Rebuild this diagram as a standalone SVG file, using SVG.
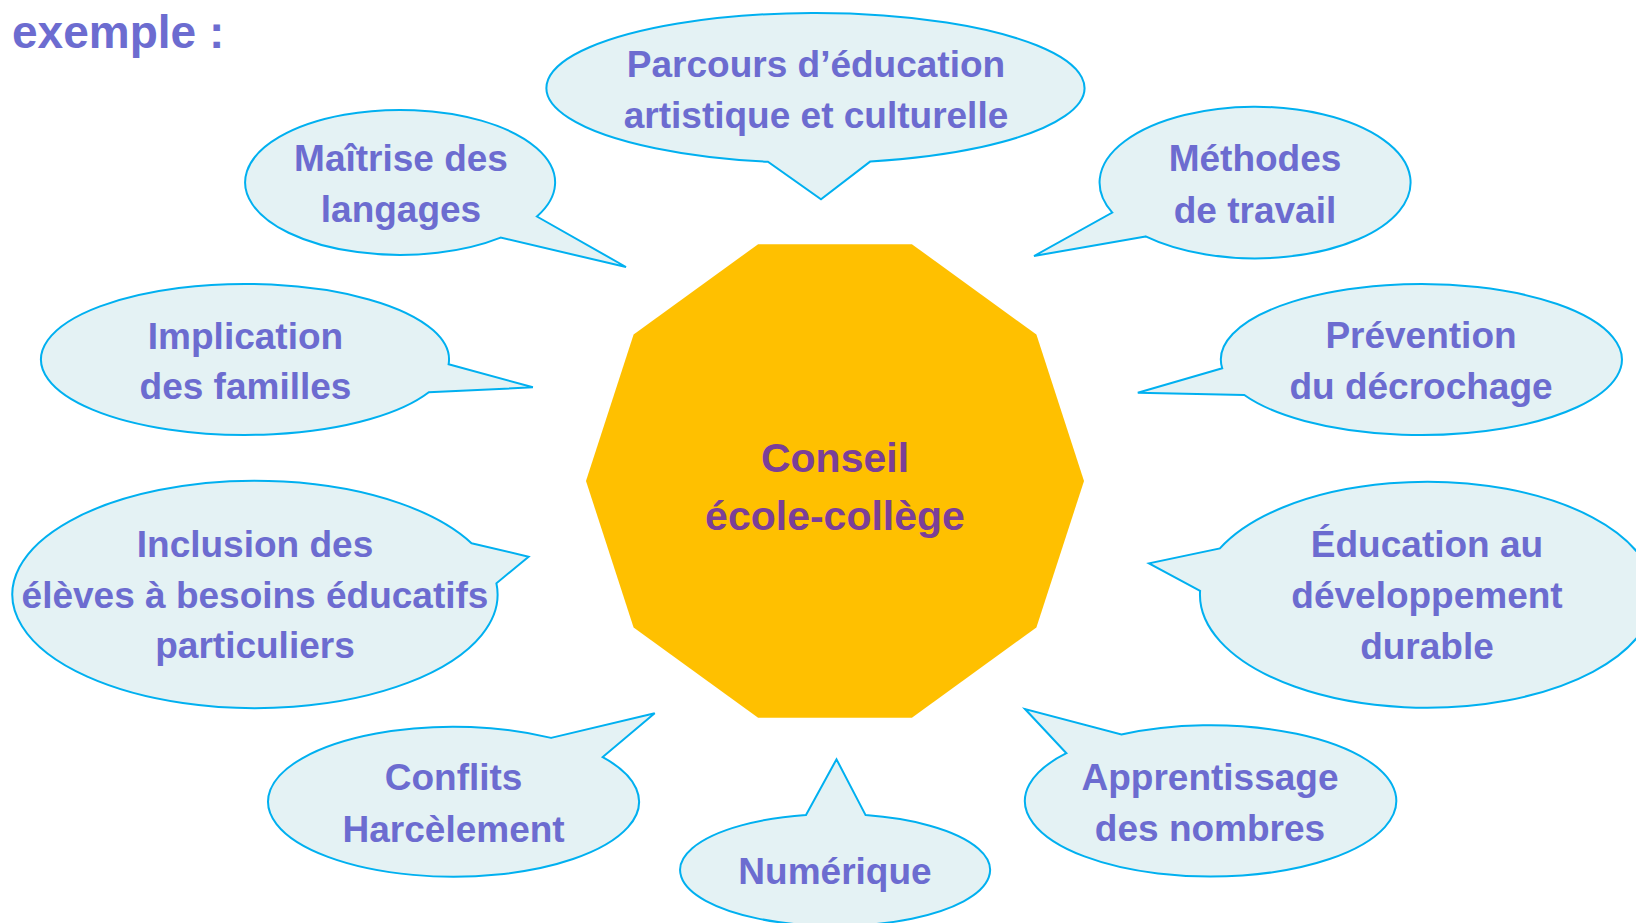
<svg xmlns="http://www.w3.org/2000/svg" width="1636" height="923" viewBox="0 0 1636 923">
<style>
.b{fill:#E4F2F4;stroke:#00B0F0;stroke-width:2;stroke-linejoin:miter}
.t{font-family:"Liberation Sans",Arial,sans-serif;font-weight:bold;font-size:37px;fill:#6C6CD0;text-anchor:middle}
.c{font-family:"Liberation Sans",Arial,sans-serif;font-weight:bold;font-size:41px;fill:#7B3F98;text-anchor:middle}
.h{font-family:"Liberation Sans",Arial,sans-serif;font-weight:bold;font-size:46px;fill:#6C6CD0}
</style>
<rect width="1636" height="923" fill="#FFFFFF"/>
<text class="h" x="12" y="48">exemple :</text>
<g id="centre">
<polygon points="1084,481 1036.4,627.4 911.9,717.8 758.1,717.8 633.6,627.4 586,481 633.6,334.6 758.1,244.2 911.9,244.2 1036.4,334.6" fill="#FFC000"/>
<text class="c" x="835" y="472">Conseil</text>
<text class="c" x="835" y="530">école-collège</text>
</g>
<g id="parcours">
<path class="b" d="M870.4,161.4 L821,199.3 L767.9,161.8 A269,75 0 1 1 870.4,161.4 Z"/>
<text class="t" x="816" y="77">Parcours d’éducation</text>
<text class="t" x="816" y="128">artistique et culturelle</text>
</g>
<g id="maitrise">
<path class="b" d="M536.9,216.5 L626,267 L500.6,237.6 A155,72.5 0 1 1 536.9,216.5 Z"/>
<text class="t" x="401" y="171">Maîtrise des</text>
<text class="t" x="401" y="222">langages</text>
</g>
<g id="methodes">
<path class="b" d="M1145.6,236.4 L1034,256 L1112.3,212.6 A155.5,75.8 0 1 1 1145.6,236.4 Z"/>
<text class="t" x="1255" y="171">Méthodes</text>
<text class="t" x="1255" y="223">de travail</text>
</g>
<g id="implication">
<path class="b" d="M448.6,364.3 L532.9,387.3 L428.8,392.2 A204,75.5 0 1 1 448.6,364.3 Z"/>
<text class="t" x="245.5" y="349">Implication</text>
<text class="t" x="245.5" y="399">des familles</text>
</g>
<g id="prevention">
<path class="b" d="M1244.3,395 L1137.8,392.7 L1222.2,368.3 A200.5,75.5 0 1 1 1244.3,395 Z"/>
<text class="t" x="1421" y="348">Prévention</text>
<text class="t" x="1421" y="399">du décrochage</text>
</g>
<g id="inclusion">
<path class="b" d="M471.5,543.2 L528.6,556.7 L496.4,583.3 A242.6,113.7 0 1 1 471.5,543.2 Z"/>
<text class="t" x="255" y="557">Inclusion des</text>
<text class="t" x="255" y="608">élèves à besoins éducatifs</text>
<text class="t" x="255" y="658">particuliers</text>
</g>
<g id="education">
<path class="b" d="M1200.1,590.8 L1149,563.3 L1219.9,548.4 A227,113 0 1 1 1200.1,590.8 Z"/>
<text class="t" x="1427" y="557">Éducation au</text>
<text class="t" x="1427" y="608">développement</text>
<text class="t" x="1427" y="659">durable</text>
</g>
<g id="conflits">
<path class="b" d="M551.1,737.9 L654.7,713.3 L602.7,757.1 A185.5,75 0 1 1 551.1,737.9 Z"/>
<text class="t" x="453.6" y="790">Conflits</text>
<text class="t" x="453.6" y="842">Harcèlement</text>
</g>
<g id="numerique">
<path class="b" d="M806,815 L836.5,759.3 L865.6,815.1 A155,56 0 1 1 806,815 Z"/>
<text class="t" x="835" y="884">Numérique</text>
</g>
<g id="apprentissage">
<path class="b" d="M1066.4,753.2 L1025,709 L1121.4,734.5 A185.7,75.7 0 1 1 1066.4,753.2 Z"/>
<text class="t" x="1210" y="790">Apprentissage</text>
<text class="t" x="1210" y="841">des nombres</text>
</g>
</svg>
